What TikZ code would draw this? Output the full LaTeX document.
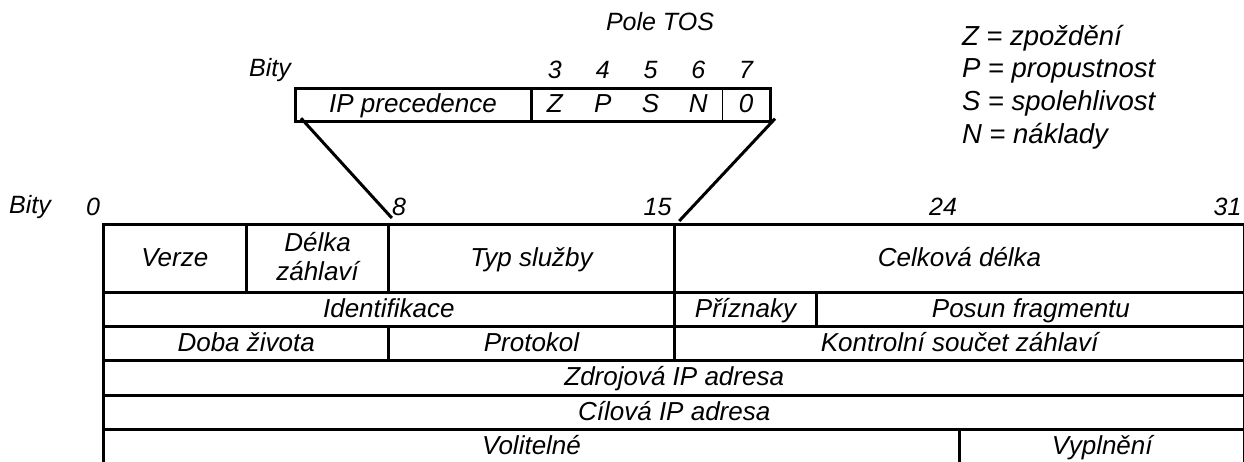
\documentclass[tikz,border=0pt]{standalone}
\usepackage{fontspec}
\setmainfont{Liberation Sans}
\usetikzlibrary{calc}
\newcommand\bitw{35.67}
\newcommand\rowh{34.2}
\newcommand\tosw{47.8}
\begin{document}
\begin{tikzpicture}[x=1pt,y=-1pt,
  lbl/.style={font=\fontsize{26}{29}\selectfont\itshape, inner sep=0pt, outer sep=0pt},
  boxtext/.style={lbl, text height=20pt, text depth=4pt},
  num/.style={lbl, font=\fontsize{25}{28}\selectfont\itshape},
  legend/.style={lbl, anchor=west, font=\fontsize{27.5}{30}\selectfont\itshape},
  field/.style={boxtext, draw, line width=3pt, anchor=north west, align=center,
    minimum height=\rowh},
  tall/.style={minimum height=2*\rowh},
  twolines/.style={text height=49pt},
  bits/.style={minimum width=#1*\bitw},
  toscell/.style={boxtext, text height=19.5pt, text depth=5pt, anchor=north west,
    minimum height=33.4, minimum width=\tosw},
  fan/.style={line width=3pt}]
\useasboundingbox (0,0) rectangle (1244,461);

% IPv4 header, 32 bits per row
\node[field, tall, bits=4]  (verze) at (103.5,224) {Verze};
\node[field, tall, twolines, bits=4] (dz) at ({103.5+4*\bitw},224) {Délka\\záhlaví};
\node[field, tall, bits=8]  (typ)   at ({103.5+8*\bitw},224) {Typ služby};
\node[field, tall, bits=16] (celk)  at ({103.5+16*\bitw},224) {Celková délka};

\node[field, bits=16] (ident) at (103.5,{224+2*\rowh}) {Identifikace};
\node[field, bits=4]  (prizn) at ({103.5+16*\bitw},{224+2*\rowh}) {Příznaky};
\node[field, bits=12] (posun) at ({103.5+20*\bitw},{224+2*\rowh}) {Posun fragmentu};

\node[field, bits=8]  (ttl)   at (103.5,{224+3*\rowh}) {Doba života};
\node[field, bits=8]  (proto) at ({103.5+8*\bitw},{224+3*\rowh}) {Protokol};
\node[field, bits=16] (csum)  at ({103.5+16*\bitw},{224+3*\rowh}) {Kontrolní součet záhlaví};

\node[field, bits=32] (src) at (103.5,{224+4*\rowh}) {Zdrojová IP adresa};
\node[field, bits=32] (dst) at (103.5,{224+5*\rowh}) {Cílová IP adresa};

\node[field, bits=24] (opt) at (103.5,{224+6*\rowh}) {Volitelné};
\node[field, bits=8]  (pad) at ({103.5+24*\bitw},{224+6*\rowh}) {Vyplnění};

% bit numbers of the header
\node[num] (bity) at (30,207) {Bity};
\node[num, anchor=east] (b0)  at (100,207) {0};
\node[num, anchor=west] (b8)  at (392,207) {8};
\node[num, anchor=east] (b15) at (671.5,207) {15};
\node[num] (b24) at (943,207) {24};
\node[num, anchor=east] (b31) at (1241.5,207) {31};

% TOS byte
\node[toscell, minimum width=236] (ipp) at (295,88.3) {IP precedence};
\node[toscell] (tz) at (ipp.north east) {Z};
\node[toscell] (tp) at (tz.north east) {P};
\node[toscell] (ts) at (tp.north east) {S};
\node[toscell] (tn) at (ts.north east) {N};
\node[toscell] (t0) at (tn.north east) {0};
\draw[line width=3pt] (ipp.north west) rectangle (t0.south east);
\draw[line width=3pt] (ipp.north east) -- (ipp.south east);
\draw[line width=0.9pt] (t0.north west) -- (t0.south west);

\node[num] (tosbity) at (270,70) {Bity};
\node[num] (n3) at (tz.center |- 0,70) {3};
\node[num] (n4) at (tp.center |- 0,70) {4};
\node[num] (n5) at (ts.center |- 0,70) {5};
\node[num] (n6) at (tn.center |- 0,70) {6};
\node[num] (n7) at (t0.center |- 0,70) {7};
\node[num] (pole) at (660,22) {Pole TOS};

% TOS expands the Typ služby field
\draw[fan] ($(ipp.south west)+(6,-3.5)$) -- ($(typ.north west)+(3,-6)$);
\draw[fan] ($(t0.south east)+(5,-3)$) -- ($(celk.north west)+(5,-3)$);

% legend
\node[legend] (lz) at (962,38)  {Z = zpoždění};
\node[legend] (lp) at (962,71)  {P = propustnost};
\node[legend] (ls) at (962,103) {S = spolehlivost};
\node[legend] (ln) at (962,136) {N = náklady};
\end{tikzpicture}
\end{document}
